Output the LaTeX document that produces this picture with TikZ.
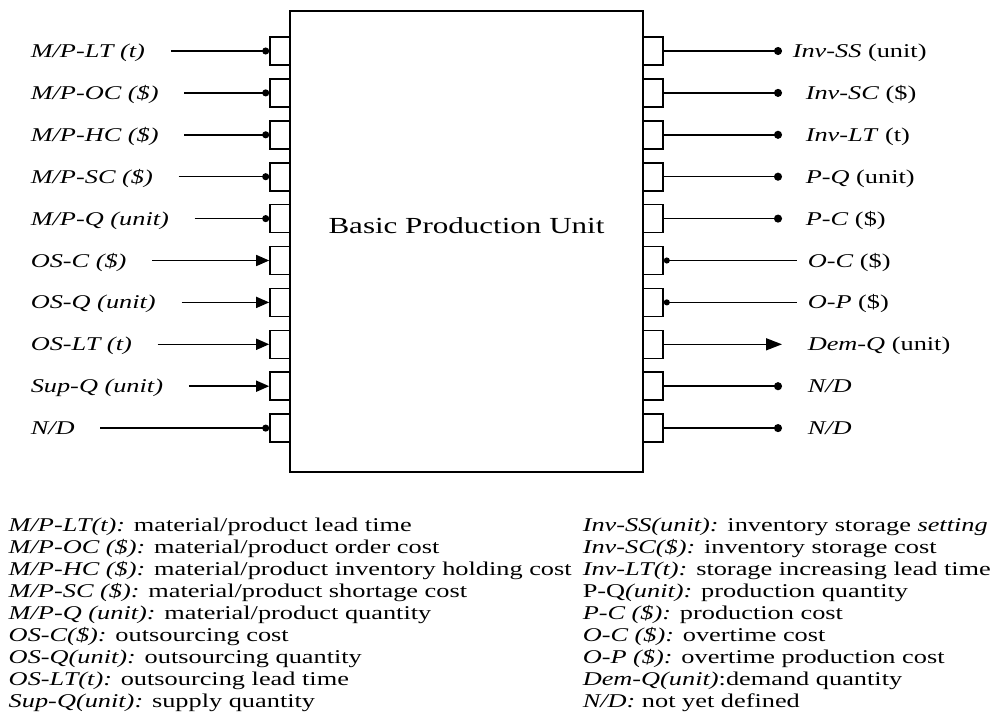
\documentclass[tikz,border=0pt]{standalone}
\usepackage{fontspec}
\setmainfont{Liberation Serif}[FakeStretch=1.35]
\usetikzlibrary{arrows.meta,positioning}

\begin{document}
\begin{tikzpicture}[
  x=1pt,y=-1pt,
  line width=1.5pt,
  unitbox/.style={draw,line width=1.8pt,minimum width=353pt,minimum height=461pt,inner sep=0pt},
  port/.style={draw,line width=1.6pt,minimum width=20pt,minimum height=28pt,inner sep=0pt},
  sig/.style={font=\fontsize{19.5}{22}\selectfont,inner sep=0pt,text height=13pt,text depth=0pt},
  legtxt/.style={font=\fontsize{19.5}{22}\selectfont,inner sep=0pt,anchor=base west},
  dotin/.style={-{Circle[length=7pt]},shorten <=25pt},
  arrin/.style={-{Triangle[length=13pt,width=11pt]},shorten <=25pt},
  dotout/.style={-{Circle[length=8pt]}},
  arrout/.style={-{Triangle[length=16pt,width=12pt]}},
  dotstart/.style={{Circle[length=6pt]}-}
]
\useasboundingbox (0,0) rectangle (991,712);

\node[unitbox] (bpu) at (466.5,241.5) {};
\node[font=\fontsize{23}{26}\selectfont] (bpuname) at (466.5,226) {Basic Production Unit};

% inputs
\foreach \i/\txt/\kind in {1/{M/P-LT (t)}/dotin, 2/{M/P-OC (\$)}/dotin, 3/{M/P-HC (\$)}/dotin,
    4/{M/P-SC (\$)}/dotin, 5/{M/P-Q (unit)}/dotin, 6/{OS-C (\$)}/arrin, 7/{OS-Q (unit)}/arrin,
    8/{OS-LT (t)}/arrin, 9/{Sup-Q (unit)}/arrin, 10/{N/D}/dotin}{
  \node[port] (pl\i) at (280,{51+41.9*(\i-1)}) {};
  \node[sig,anchor=west] (ll\i) at (30,{51+41.9*(\i-1)}) {\textit{\txt}};
  \draw[\kind] (ll\i) -- (pl\i);
}

% outputs
\foreach \i/\txt/\kind/\lx/\g in {1/{\textit{Inv-SS} (unit)}/dotout/792/10, 2/{\textit{Inv-SC} (\$)}/dotout/805/23,
    3/{\textit{Inv-LT} (t)}/dotout/805/23, 4/{\textit{P-Q} (unit)}/dotout/805/23, 5/{\textit{P-C} (\$)}/dotout/805/23,
    6/{\textit{O-C} (\$)}/dotstart/807/10, 7/{\textit{O-P} (\$)}/dotstart/807/10, 8/{\textit{Dem-Q} (unit)}/arrout/807/25,
    9/{\textit{N/D}}/dotout/807/25, 10/{\textit{N/D}}/dotout/807/25}{
  \node[port] (pr\i) at (653,{51+41.9*(\i-1)}) {};
  \node[sig,anchor=west] (rl\i) at (\lx,{51+41.9*(\i-1)}) {\txt};
  \draw[\kind,shorten >=\g pt] (pr\i) -- (rl\i);
}

% legend
\foreach \t [count=\i] in {\textit{M/P-LT(t):} material/product lead time,
    \textit{M/P-OC (\$):} material/product order cost,
    \textit{M/P-HC (\$):} material/product inventory holding cost,
    \textit{M/P-SC (\$):} material/product shortage cost,
    \textit{M/P-Q (unit):} material/product quantity,
    \textit{OS-C(\$):} outsourcing cost,
    \textit{OS-Q(unit):} outsourcing quantity,
    \textit{OS-LT(t):} outsourcing lead time,
    \textit{Sup-Q(unit):} supply quantity}
  \node[legtxt] (legl\i) at (8,{531.5+22*(\i-1)}) {\t};
\foreach \t [count=\i] in {\textit{Inv-SS(unit):} inventory storage \textit{setting},
    \textit{Inv-SC(\$):} inventory storage cost,
    \textit{Inv-LT(t):} storage increasing lead time,
    P-Q\textit{(unit):} production quantity,
    \textit{P-C (\$):} production cost,
    \textit{O-C (\$):} overtime cost,
    \textit{O-P (\$):} overtime production cost,
    \textit{Dem-Q(unit)}:demand quantity,
    \textit{N/D:} not yet defined}
  \node[legtxt] (legr\i) at (582,{531.5+22*(\i-1)}) {\t};
\end{tikzpicture}
\end{document}
